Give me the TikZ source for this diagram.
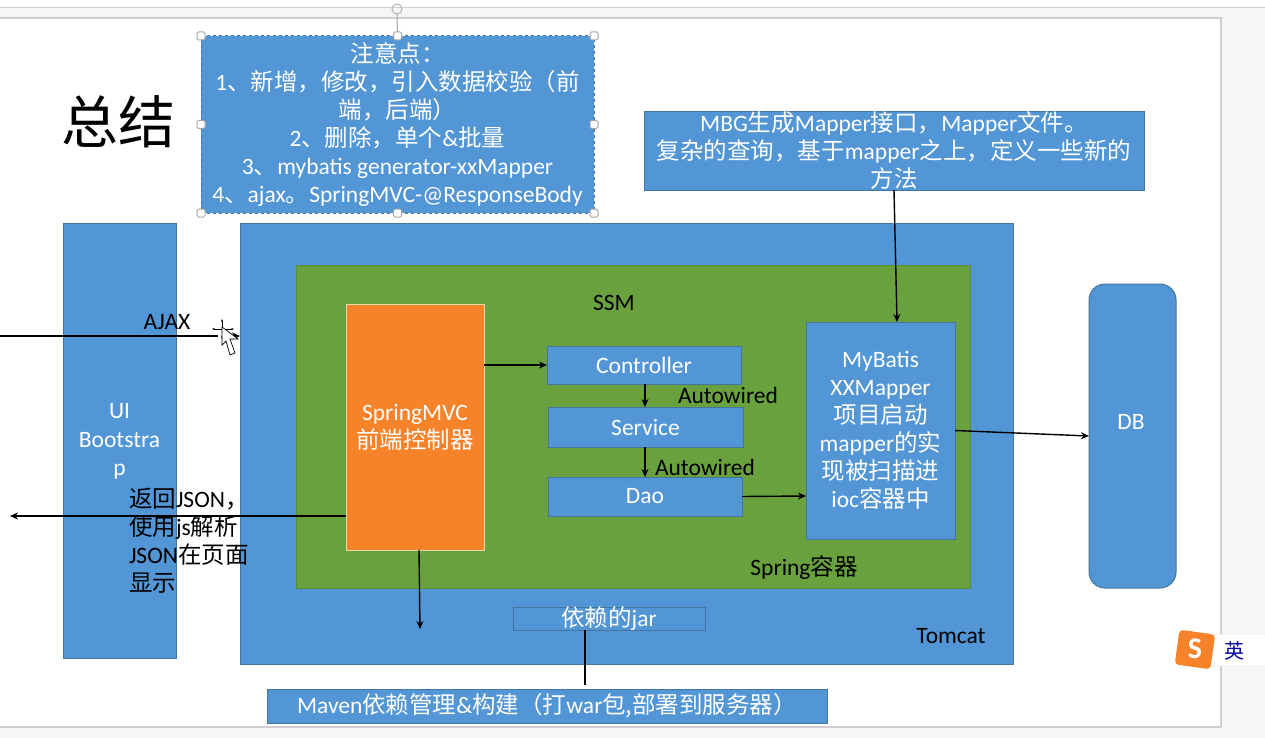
\documentclass[tikz,border=0pt]{standalone}
\usepackage{fontspec}
\setmainfont{Carlito}
\newfontfamily\cjk{Noto Sans CJK SC}
\newcommand\C[1]{{\cjk #1}}
\usetikzlibrary{arrows.meta}
\definecolor{bfill}{HTML}{5296D6}
\definecolor{bline}{HTML}{44779F}
\definecolor{gfill}{HTML}{6AA13F}
\definecolor{gline}{HTML}{5C8C37}
\definecolor{ofill}{HTML}{F68229}
\definecolor{oline}{HTML}{E8D9A8}
\definecolor{chrome}{HTML}{F6F6F6}
\definecolor{edge}{HTML}{CFCFCF}
\tikzset{
  x=1pt,y=-1pt,
  every node/.style={inner sep=0pt,outer sep=0pt},
  box/.style={anchor=north west,draw=bline,fill=bfill,line width=1pt,text=white,align=center,font=\fontsize{23.5}{28}\selectfont},
  greenbox/.style={box,draw=gline,fill=gfill},
  orangebox/.style={box,draw=oline,fill=ofill},
  label/.style={text=black,align=center,font=\fontsize{23.5}{28}\selectfont},
  conn/.style={draw=black,line width=1.4pt,-{Stealth[length=8pt,width=7pt]}},
  plainconn/.style={draw=black,line width=1.4pt},
  handle/.style={draw=gray!70,fill=white,line width=1pt,rounded corners=1.5pt,minimum width=8pt,minimum height=8pt}
}
\begin{document}
\begin{tikzpicture}
\useasboundingbox (0,0) rectangle (1265,738);
% window chrome and slide
\fill[chrome] (0,0) rectangle (1265,738);
\fill[white] (0,0) rectangle (1265,7);
\draw[edge,line width=1pt] (0,7.5) -- (1265,7.5);
\fill[white] (0,18) rectangle (1221,727);
\draw[edge,line width=1.2pt] (0,18) -- (1221,18) -- (1221,727) -- (0,727);

\node[text=black,font=\fontsize{57}{60}\selectfont] (title) at (118,122) {\C{总结}};

\node[box,minimum width=113,minimum height=435] (ui) at (63,223) {};
\node[text=white,align=center,font=\fontsize{23.5}{28.5}\selectfont] (uil) at (119.5,441.5) {UI\\Bootstra\\p};
\node[box,minimum width=773,minimum height=441] (tomcat) at (240,223) {};
\node[greenbox,minimum width=674,minimum height=323] (spring) at (296,265) {};
\node[orangebox,minimum width=138,minimum height=246] (mvc) at (346,304) {SpringMVC\\\C{前端控制器}};
\node[box,minimum width=194,minimum height=38] (ctrl) at (547,346) {Controller};
\node[box,minimum width=195,minimum height=40] (svc) at (548,407) {Service};
\node[box,minimum width=194,minimum height=39] (dao) at (548,477) {Dao};
\node[box,minimum width=149,minimum height=217] (mybatis) at (806,322) {MyBatis\\XXMapper\\\C{项目启动}\\mapper\C{的实}\\\C{现被扫描进}\\ioc\C{容器中}};
\node[box,rounded corners=16pt,minimum width=87,minimum height=304] (db) at (1089,284) {};
\node[text=white,font=\fontsize{23.5}{28}\selectfont] (dbl) at (1131,422) {DB};
\node[box,minimum width=500,minimum height=78] (mbg) at (644,112) {MBG\C{生成}Mapper\C{接口，}Mapper\C{文件。}\\\C{复杂的查询，基于}mapper\C{之上，定义一些新的}\\\C{方法}};
\node[box,dashed,minimum width=393,minimum height=177] (notes) at (201,36) {\C{注意点：}\\1\C{、新增，修改，引入数据校验（前}\\\C{端，后端）}\\2\C{、删除，单个}\&\C{批量}\\3\C{、}mybatis generator-xxMapper\\4\C{、}ajax\C{。}SpringMVC-@ResponseBody};
\node[box,minimum width=192,minimum height=23] (jar) at (513,607) {\C{依赖的}jar};
\node[box,minimum width=560,minimum height=34] (maven) at (267,689) {Maven\C{依赖管理}\&\C{构建（打}war\C{包,部署到服务器）}};

% selection handles
\foreach \n/\a in {h1/north west,h2/north,h3/north east,h4/west,h5/east,h6/south west,h7/south,h8/south east}
  \node[handle] (\n) at (notes.\a) {};
\coordinate (rot) at (397,14);
\draw[gray!70,line width=1pt] (h2.north) -- (rot);
\node[draw=gray!60,circle,minimum width=10pt,line width=1pt] (roth) at (397,9) {};

% labels
\node[label] (ajax) at (167,322) {AJAX};
\node[label] (ssm) at (614,303) {SSM};
\node[label] (aw1) at (728,395) {Autowired};
\node[label] (aw2) at (705,467) {Autowired};
\node[label] (springl) at (804,568) {Spring\C{容器}};
\node[label] (tomcatl) at (951,636) {Tomcat};
\node[label,align=left,anchor=north west] (ret) at (129,488) {\C{返回}JSON\C{，}\\\C{使用}js\C{解析}\\JSON\C{在页面}\\\C{显示}};

% connectors
\coordinate (ajaxstart) at (0,336);
\coordinate (retend) at (10,516);
\coordinate (retstart) at (346,516);
\coordinate (mvcdown) at (420,629);
\coordinate (jarleft) at (585,630);
\coordinate (jarend) at (585,685);
\draw[plainconn] (ajaxstart) -- (218,336);
\draw[conn] (222,336) -- (ajaxstart -| tomcat.west);
\draw[conn] (mvc.west |- retstart) -- (retend);
\draw[conn] (mvc.east |- ctrl.west) -- (ctrl.west);
\draw[conn] (645,384) -- (645,407);
\draw[conn] (645,447) -- (645,477);
\draw[conn] (dao.east) -- (mybatis.west |- 0,496);
\draw[conn] (mybatis.east) -- (db.west |- 0,436);
\draw[conn] (894,190) -- (897,322);
\draw[conn] (419,550) -- (mvcdown);
\draw[plainconn] (jarleft) -- (jarend);

% mouse cursor
\draw[black,line width=.8pt,{Stealth[length=3pt]}-{Stealth[length=3pt]}] (212,329) -- (234,329);
\draw[black,line width=.8pt,{Stealth[length=3pt]}-{Stealth[length=3pt]}] (222,319) -- (222,339);
\draw[black,fill=white,line width=.7pt] (222,327) -- (222,345) -- (226,341) -- (230,355) -- (235,353) -- (230,339) -- (238,339) -- cycle;

% input-method badge
\fill[white,draw=edge,rounded corners=3pt] (1200,634) rectangle (1270,666);
\fill[ofill,rounded corners=4pt,rotate around={-8:(1195,649)}] (1177,632) rectangle (1213,667);
\node[text=white,font=\fontsize{30}{30}\bfseries\selectfont] (sg) at (1195,649) {S};
\node[text=blue!60!black,font=\fontsize{20}{20}\selectfont] (ying) at (1234,651) {\C{英}};
\end{tikzpicture}
\end{document}
